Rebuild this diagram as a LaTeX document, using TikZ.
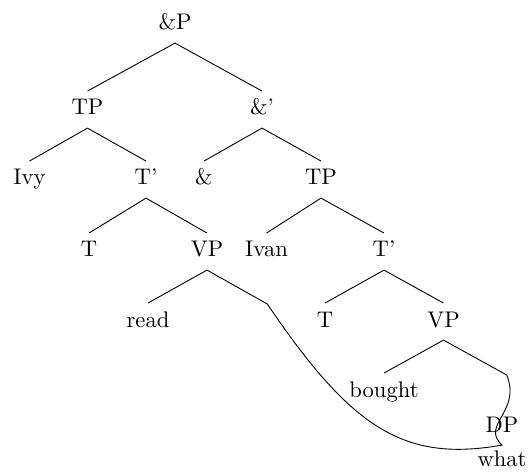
\documentclass[tikz,border=0pt]{standalone}
\usepackage{tikz}

\begin{document}
\begin{tikzpicture}[x=0.4425pt, y=0.4425pt,
    cat/.style={anchor=base, inner sep=3.5pt, text height=6.9pt, text depth=2.1pt}]
    \useasboundingbox (0,0) rectangle (530,-472);

    % Labels, level by level
    \node[cat] (root) at (175,-30) {\&P};
    \node[cat] (tpa) at (87.5,-115) {TP};
    \node[cat] (amb) at (262,-115) {\&'};
    \node[cat] (ivy) at (29.5,-185) {Ivy};
    \node[cat] (tba) at (146,-185) {T'};
    \node[cat] (amp) at (204,-185) {\&};
    \node[cat] (tpb) at (321,-185) {TP};
    \node[cat] (ta) at (89,-257) {T};
    \node[cat] (vpa) at (207,-257) {VP};
    \node[cat] (ivan) at (266.5,-257) {Ivan};
    \node[cat] (tbb) at (384,-257) {T'};
    \node[cat] (read) at (148,-327) {read};
    \node[cat] (tb) at (325,-327) {T};
    \node[cat] (vpb) at (443.5,-327) {VP};
    \node[cat] (bought) at (384,-397) {bought};
    \node[cat] (dp) at (502,-432) {DP};
    \node[cat] (what) at (502,-466.5) {what};
    \coordinate (gapa) at (267.3,-304);
    \coordinate (gapb) at (506.7,-375);

    % Branches
    \foreach \p/\c in {root/tpa, root/amb, tpa/ivy, tpa/tba, amb/amp, amb/tpb,
                       tba/ta, tba/vpa, tpb/ivan, tpb/tbb, vpa/read,
                       tbb/tb, tbb/vpb, vpb/bought} {
        \draw (\p.south) -- (\c.north);
    }
    \draw (vpa.south) -- (gapa);
    \draw (vpb.south) -- (gapb);

    % Movement
    \draw (gapa) .. controls +(84,-124) and +(-98.5,-17.4) .. (dp.south)
                 .. controls +(-21.9,20.5) and +(15,-37.1) .. (gapb);
\end{tikzpicture}
\end{document}
